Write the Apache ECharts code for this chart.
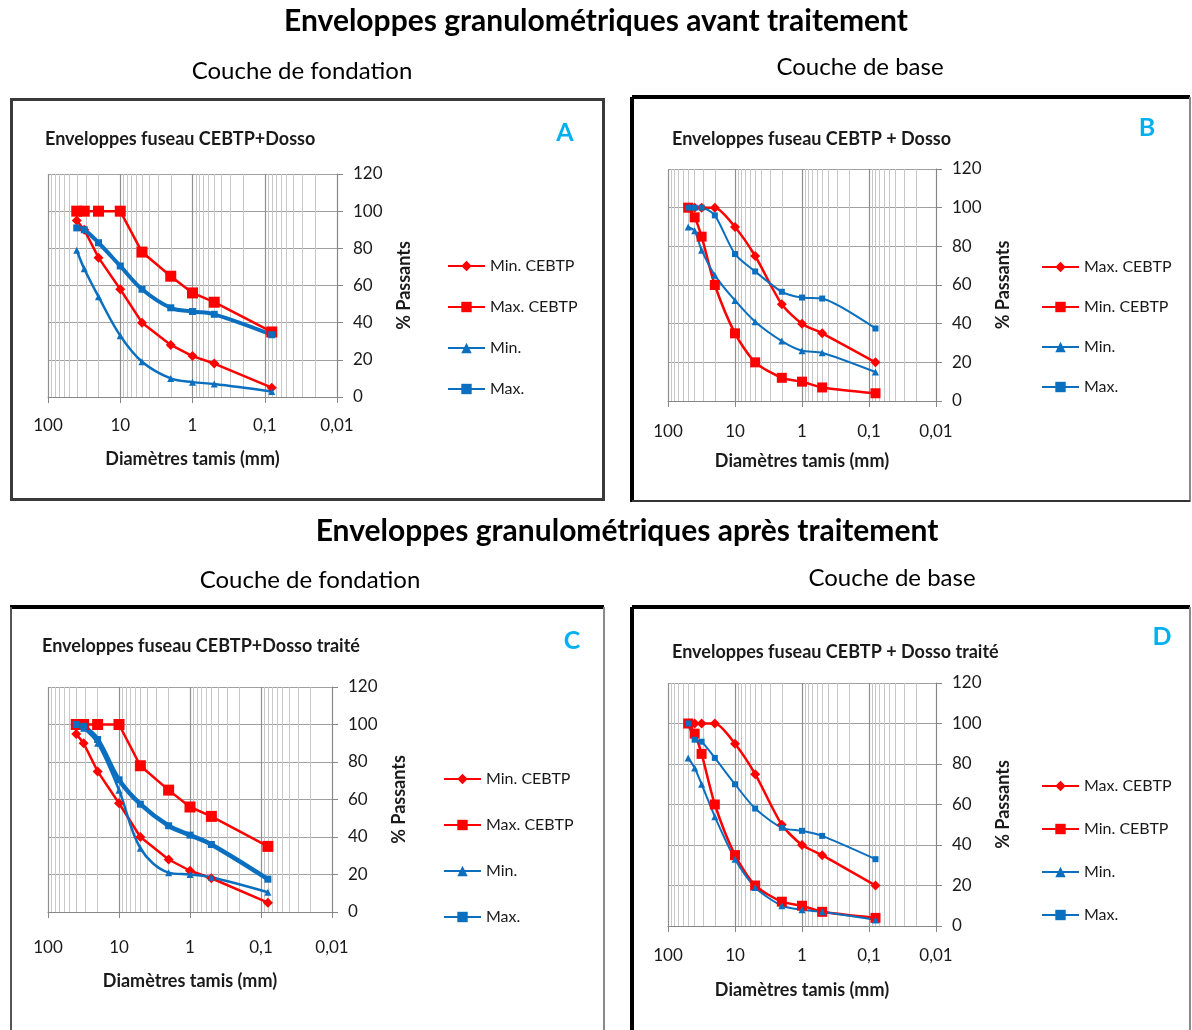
<!DOCTYPE html>
<html><head><meta charset="utf-8">
<script src="https://cdn.jsdelivr.net/npm/echarts@6/dist/echarts.min.js"></script>
<style>html,body{margin:0;padding:0;background:#fff}#c{width:1192px;height:1030px}</style>
</head><body><div id="c"></div>
<script>
// ---------- DATA ----------
const sievesAC = [40, 31.5, 20, 10, 5, 2, 1, 0.5, 0.08];
const sievesBD = [50, 40, 31.5, 20, 10, 5, 2, 1, 0.5, 0.08];

// A : Couche de fondation, avant traitement
const minCebtpA = [95, 90, 75, 58, 40, 28, 22, 18, 5];
const maxCebtpA = [100, 100, 100, 100, 78, 65, 56, 51, 35];
const minA = [79, 69, 54, 33, 19, 10, 8, 7, 3];
const maxA = [91, 90, 83, 70.5, 58, 48, 46, 44.5, 33.5];

// B : Couche de base, avant traitement
const maxCebtpB = [100, 100, 100, 100, 90, 75, 50, 40, 35, 20];
const minCebtpB = [100, 95, 85, 60, 35, 20, 12, 10, 7, 4];
const minB = [90, 88, 78, 65, 52, 41, 31, 26, 25, 15];
const maxB = [100, 100, 100, 96, 76, 67, 56.5, 53.5, 53, 37.5];

// C : Couche de fondation, après traitement
const minCebtpC = [95, 90, 75, 58, 40, 28, 22, 18, 5];
const maxCebtpC = [100, 100, 100, 100, 78, 65, 56, 51, 35];
const minC = [100, 98, 90, 65, 34, 21, 20, 18.5, 10.5];
const maxC = [100, 99, 92, 70.5, 57.5, 46, 41, 36, 17.5];

// D : Couche de base, après traitement
const maxCebtpD = [100, 100, 100, 100, 90, 75, 50, 40, 35, 20];
const minCebtpD = [100, 95, 85, 60, 35, 20, 12, 10, 7, 4];
const minD = [83, 78, 70, 54, 33, 19, 10, 8, 7, 3];
const maxD = [100, 92, 91, 83, 70, 58, 48.5, 47, 44.5, 33];

const xMin = 0.01, xMax = 100;
const yMin = 0, yMax = 120, yStep = 20;
const xAxisName = 'Diamètres tamis (mm)';
const yAxisName = '% Passants';

// ---------- STYLE ----------
const FONT = 'Lato, "Open Sans", sans-serif';
const RED = '#ff0000', BLUE = '#0b6fc0';
const TXT = '#1a1a1a';

const zip = (xs, ys) => xs.map((x, i) => [x, ys[i]]);

const panels = [
  { key: 'A', title: 'Enveloppes fuseau CEBTP+Dosso', titlePos: [45, 139], letterPos: [565, 133],
    grid: { left: 48, top: 174, width: 289, height: 223 }, labelMargin: 20, nameGap: 53, yNameGap: 58,
    legend: { left: 447, top: 258, gap: 25 },
    series: [
      { name: 'Min. CEBTP', x: sievesAC, y: minCebtpA, color: RED, symbol: 'diamond', size: 10, width: 2.5, smooth: false },
      { name: 'Max. CEBTP', x: sievesAC, y: maxCebtpA, color: RED, symbol: 'rect', size: 11, width: 2.5, smooth: false },
      { name: 'Min.', x: sievesAC, y: minA, color: BLUE, symbol: 'triangle', size: 7, width: 2.5, smooth: 0.35 },
      { name: 'Max.', x: sievesAC, y: maxA, color: BLUE, symbol: 'rect', size: 7, width: 4, smooth: 0.35 }
    ] },
  { key: 'B', title: 'Enveloppes fuseau CEBTP + Dosso', titlePos: [672, 139], letterPos: [1147, 128],
    grid: { left: 668, top: 169, width: 268, height: 232 }, labelMargin: 22, nameGap: 51, yNameGap: 58,
    legend: { left: 1041, top: 259, gap: 24 },
    series: [
      { name: 'Max. CEBTP', x: sievesBD, y: maxCebtpB, color: RED, symbol: 'diamond', size: 10, width: 2.5, smooth: 0.25 },
      { name: 'Min. CEBTP', x: sievesBD, y: minCebtpB, color: RED, symbol: 'rect', size: 10, width: 2.5, smooth: 0.25 },
      { name: 'Min.', x: sievesBD, y: minB, color: BLUE, symbol: 'triangle', size: 7, width: 2, smooth: 0.25 },
      { name: 'Max.', x: sievesBD, y: maxB, color: BLUE, symbol: 'rect', size: 6, width: 2, smooth: 0.25 }
    ] },
  { key: 'C', title: 'Enveloppes fuseau CEBTP+Dosso traité', titlePos: [42, 646], letterPos: [572, 641],
    grid: { left: 48, top: 687, width: 284, height: 225 }, labelMargin: 27, nameGap: 60, yNameGap: 58,
    legend: { left: 443, top: 771, gap: 30 },
    series: [
      { name: 'Min. CEBTP', x: sievesAC, y: minCebtpC, color: RED, symbol: 'diamond', size: 10, width: 2.5, smooth: false },
      { name: 'Max. CEBTP', x: sievesAC, y: maxCebtpC, color: RED, symbol: 'rect', size: 11, width: 2.5, smooth: false },
      { name: 'Min.', x: sievesAC, y: minC, color: BLUE, symbol: 'triangle', size: 7, width: 2.5, smooth: 0.35 },
      { name: 'Max.', x: sievesAC, y: maxC, color: BLUE, symbol: 'rect', size: 7, width: 4.5, smooth: 0.35 }
    ] },
  { key: 'D', title: 'Enveloppes fuseau CEBTP + Dosso traité', titlePos: [672, 652], letterPos: [1162, 637],
    grid: { left: 668, top: 683, width: 268, height: 243 }, labelMargin: 21, nameGap: 55, yNameGap: 58,
    legend: { left: 1041, top: 778, gap: 27 },
    series: [
      { name: 'Max. CEBTP', x: sievesBD, y: maxCebtpD, color: RED, symbol: 'diamond', size: 10, width: 2.5, smooth: 0.25 },
      { name: 'Min. CEBTP', x: sievesBD, y: minCebtpD, color: RED, symbol: 'rect', size: 10, width: 2.5, smooth: 0.25 },
      { name: 'Min.', x: sievesBD, y: minD, color: BLUE, symbol: 'triangle', size: 7, width: 2, smooth: 0.25 },
      { name: 'Max.', x: sievesBD, y: maxD, color: BLUE, symbol: 'rect', size: 6, width: 2, smooth: 0.25 }
    ] }
];

// minor log gridlines (2..9 per decade)
const minorVals = [];
[0.01, 0.1, 1, 10].forEach(d => { for (let k = 2; k <= 9; k++) minorVals.push(+(k * d).toPrecision(3)); });

const grids = [], xAxes = [], yAxes = [], series = [], legends = [];
panels.forEach((p, i) => {
  grids.push(Object.assign({ containLabel: false }, p.grid));
  xAxes.push({
    type: 'log', logBase: 10, gridIndex: i, min: xMin, max: xMax, inverse: true, position: 'bottom',
    axisLine: { show: true, onZero: false, lineStyle: { color: '#868686', width: 1 } },
    axisTick: { show: true, length: 6, lineStyle: { color: '#868686' } },
    axisLabel: { margin: p.labelMargin, fontFamily: FONT, fontSize: 17, color: TXT,
      formatter: v => String(+v.toPrecision(3)).replace('.', ',') },
    splitLine: { show: true, lineStyle: { color: '#8f8f8f', width: 1.2 } },
    name: xAxisName, nameLocation: 'middle', nameGap: p.nameGap,
    nameTextStyle: { fontFamily: FONT, fontWeight: 'bold', fontSize: 18, color: TXT }
  });
  yAxes.push({
    type: 'value', gridIndex: i, position: 'right', min: yMin, max: yMax, interval: yStep,
    axisLine: { show: true, onZero: false, lineStyle: { color: '#868686' } },
    axisTick: { show: true, length: 6, lineStyle: { color: '#868686' } },
    axisLabel: { margin: 16, fontFamily: FONT, fontSize: 17, color: TXT },
    splitLine: { show: true, lineStyle: { color: '#a0a0a0', width: 1.2 } },
    name: yAxisName, nameLocation: 'middle', nameRotate: 90, nameGap: p.yNameGap,
    nameTextStyle: { fontFamily: FONT, fontWeight: 'bold', fontSize: 18, color: TXT }
  });
  // minor grid carrier
  series.push({
    type: 'line', name: '_grid' + p.key, xAxisIndex: i, yAxisIndex: i, data: [], z: 1, silent: true,
    markLine: { silent: true, z: 1, symbol: 'none', label: { show: false }, animation: false,
      lineStyle: { color: '#c8c8c8', width: 1, type: 'solid' }, emphasis: { disabled: true },
      data: minorVals.map(v => ({ xAxis: v })) }
  });
  const names = [];
  p.series.forEach(s => {
    const id = s.name + '|' + p.key;
    names.push(id);
    series.push({
      type: 'line', name: id, xAxisIndex: i, yAxisIndex: i, z: 3,
      data: zip(s.x, s.y), smooth: s.smooth,
      symbol: s.symbol, symbolSize: s.size, showSymbol: true,
      lineStyle: { color: s.color, width: s.width },
      itemStyle: { color: s.color, borderColor: s.color, borderWidth: 0 },
      emphasis: { disabled: true }
    });
  });
  legends.push({
    orient: 'vertical', left: p.legend.left, top: p.legend.top, itemGap: p.legend.gap,
    itemWidth: 37, itemHeight: 13, selectedMode: false, padding: 0,
    data: names, formatter: n => n.split('|')[0],
    textStyle: { fontFamily: FONT, fontSize: 16, color: TXT }
  });
});

// ---------- GRAPHICS (frames & texts) ----------
const graphics = [];
const txt = (text, x, y, size, weight, align, color) => ({
  type: 'text', x, y, silent: true,
  style: { text, font: `${weight} ${size}px ${FONT}`, fill: color || '#000', textAlign: align, textVerticalAlign: 'middle' }
});
const line = (x1, y1, x2, y2, w, c) => ({ type: 'line', silent: true, shape: { x1, y1, x2, y2 }, style: { stroke: c, lineWidth: w } });

// frames
graphics.push({ type: 'rect', silent: true, shape: { x: 11.5, y: 99.5, width: 592, height: 400 }, style: { fill: 'none', stroke: '#3a3a3a', lineWidth: 3 } });
graphics.push(line(632, 97, 1190, 97, 4, '#000'), line(632, 97, 632, 502, 4, '#000'),
  line(1190, 97, 1190, 502, 2, '#8a8a8a'), line(632, 501, 1190, 501, 2, '#333'));
graphics.push(line(10, 607, 604, 607, 4, '#000'), line(11, 607, 11, 1030, 2, '#555'), line(604, 607, 604, 1030, 2, '#8a8a8a'));
graphics.push(line(632, 607, 1190, 607, 4, '#000'), line(632, 607, 632, 1030, 4, '#000'), line(1190, 607, 1190, 1030, 2, '#8a8a8a'));

// headings
graphics.push(txt('Enveloppes granulométriques avant traitement', 596, 21, 30, 'bold', 'center'));
graphics.push(txt('Couche de fondation', 302, 71, 24, 'normal', 'center'));
graphics.push(txt('Couche de base', 860, 67, 24, 'normal', 'center'));
graphics.push(txt('Enveloppes granulométriques après traitement', 627, 531, 30, 'bold', 'center'));
graphics.push(txt('Couche de fondation', 310, 580, 24, 'normal', 'center'));
graphics.push(txt('Couche de base', 892, 578, 24, 'normal', 'center'));
panels.forEach(p => {
  graphics.push(txt(p.title, p.titlePos[0], p.titlePos[1], 18, 'bold', 'left', TXT));
  graphics.push(txt(p.key, p.letterPos[0], p.letterPos[1], 25, 'bold', 'center', '#00b0f0'));
});

const chart = echarts.init(document.getElementById('c'), null, { renderer: 'canvas' });
chart.setOption({
  animation: false,
  backgroundColor: '#fff',
  grid: grids, xAxis: xAxes, yAxis: yAxes, series, legend: legends,
  graphic: { elements: graphics }
});
</script></body></html>
